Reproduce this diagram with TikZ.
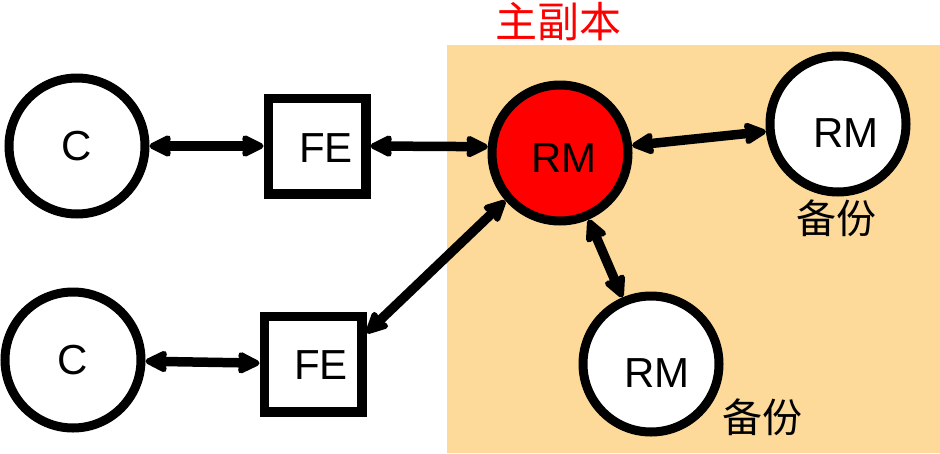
\documentclass[tikz,border=0pt]{standalone}
\usepackage{fontspec}
\setmainfont{Liberation Sans}
\newfontfamily\cjk{Noto Sans CJK SC}
\usetikzlibrary{arrows.meta}
\definecolor{bgtan}{RGB}{253,218,153}
\definecolor{rmred}{RGB}{255,0,0}
\begin{document}
\begin{tikzpicture}[x=1pt,y=-1pt,
  circ/.style={circle,draw,line width=9pt,minimum size=136pt,inner sep=0pt,fill=white,font=\fontsize{42}{42}\selectfont},
  boxn/.style={rectangle,draw,line width=9.5pt,minimum width=97.5pt,minimum height=95.5pt,inner sep=0pt,fill=white},
  boxtext/.style={font=\fontsize{42}{42}\selectfont},
  cjklabel/.style={font=\cjk\fontsize{40}{40}\selectfont},
  conn/.style={line width=9.5pt,{Stealth[length=26pt,width=25pt,inset=3pt,round]}-{Stealth[length=26pt,width=25pt,inset=3pt,round]}}]
\useasboundingbox (0,0) rectangle (940,453);
\fill[bgtan] (447,45) rectangle (940,453);

\node[circ] (C1) at (77,146) {C};
\node[circ] (C2) at (73,360) {C};
\node[boxn,label={[boxtext,shift={(9,2)}]center:FE}] (FE1) at (317,146) {};
\node[boxn,label={[boxtext,shift={(8,1)}]center:FE}] (FE2) at (313,364) {};
\node[circ,fill=rmred,label={[font=\fontsize{42}{42}\selectfont,shift={(4,5)}]center:RM}] (RM) at (560,153) {};
\node[circ,label={[font=\fontsize{42}{42}\selectfont,shift={(8,9)}]center:RM}] (RMr) at (838,124) {};
\node[circ,label={[font=\fontsize{42}{42}\selectfont,shift={(6,9)}]center:RM}] (RMb) at (651,364) {};

\node[cjklabel,text=rmred,font=\cjk\fontsize{42}{42}\selectfont] (lp) at (558,22) {主副本};
\node[cjklabel] (lb1) at (836,218) {备份};
\node[cjklabel] (lb2) at (762,417) {备份};

\draw[conn] (C1) -- (FE1);
\draw[conn] (C2) -- (FE2);
\draw[conn] (FE1.east) -- (RM.175);
\draw[conn] (RM) -- (RMr);
\draw[conn] (RM.221) -- (FE2.30);
\draw[conn] (RM) -- (RMb);
\end{tikzpicture}
\end{document}
